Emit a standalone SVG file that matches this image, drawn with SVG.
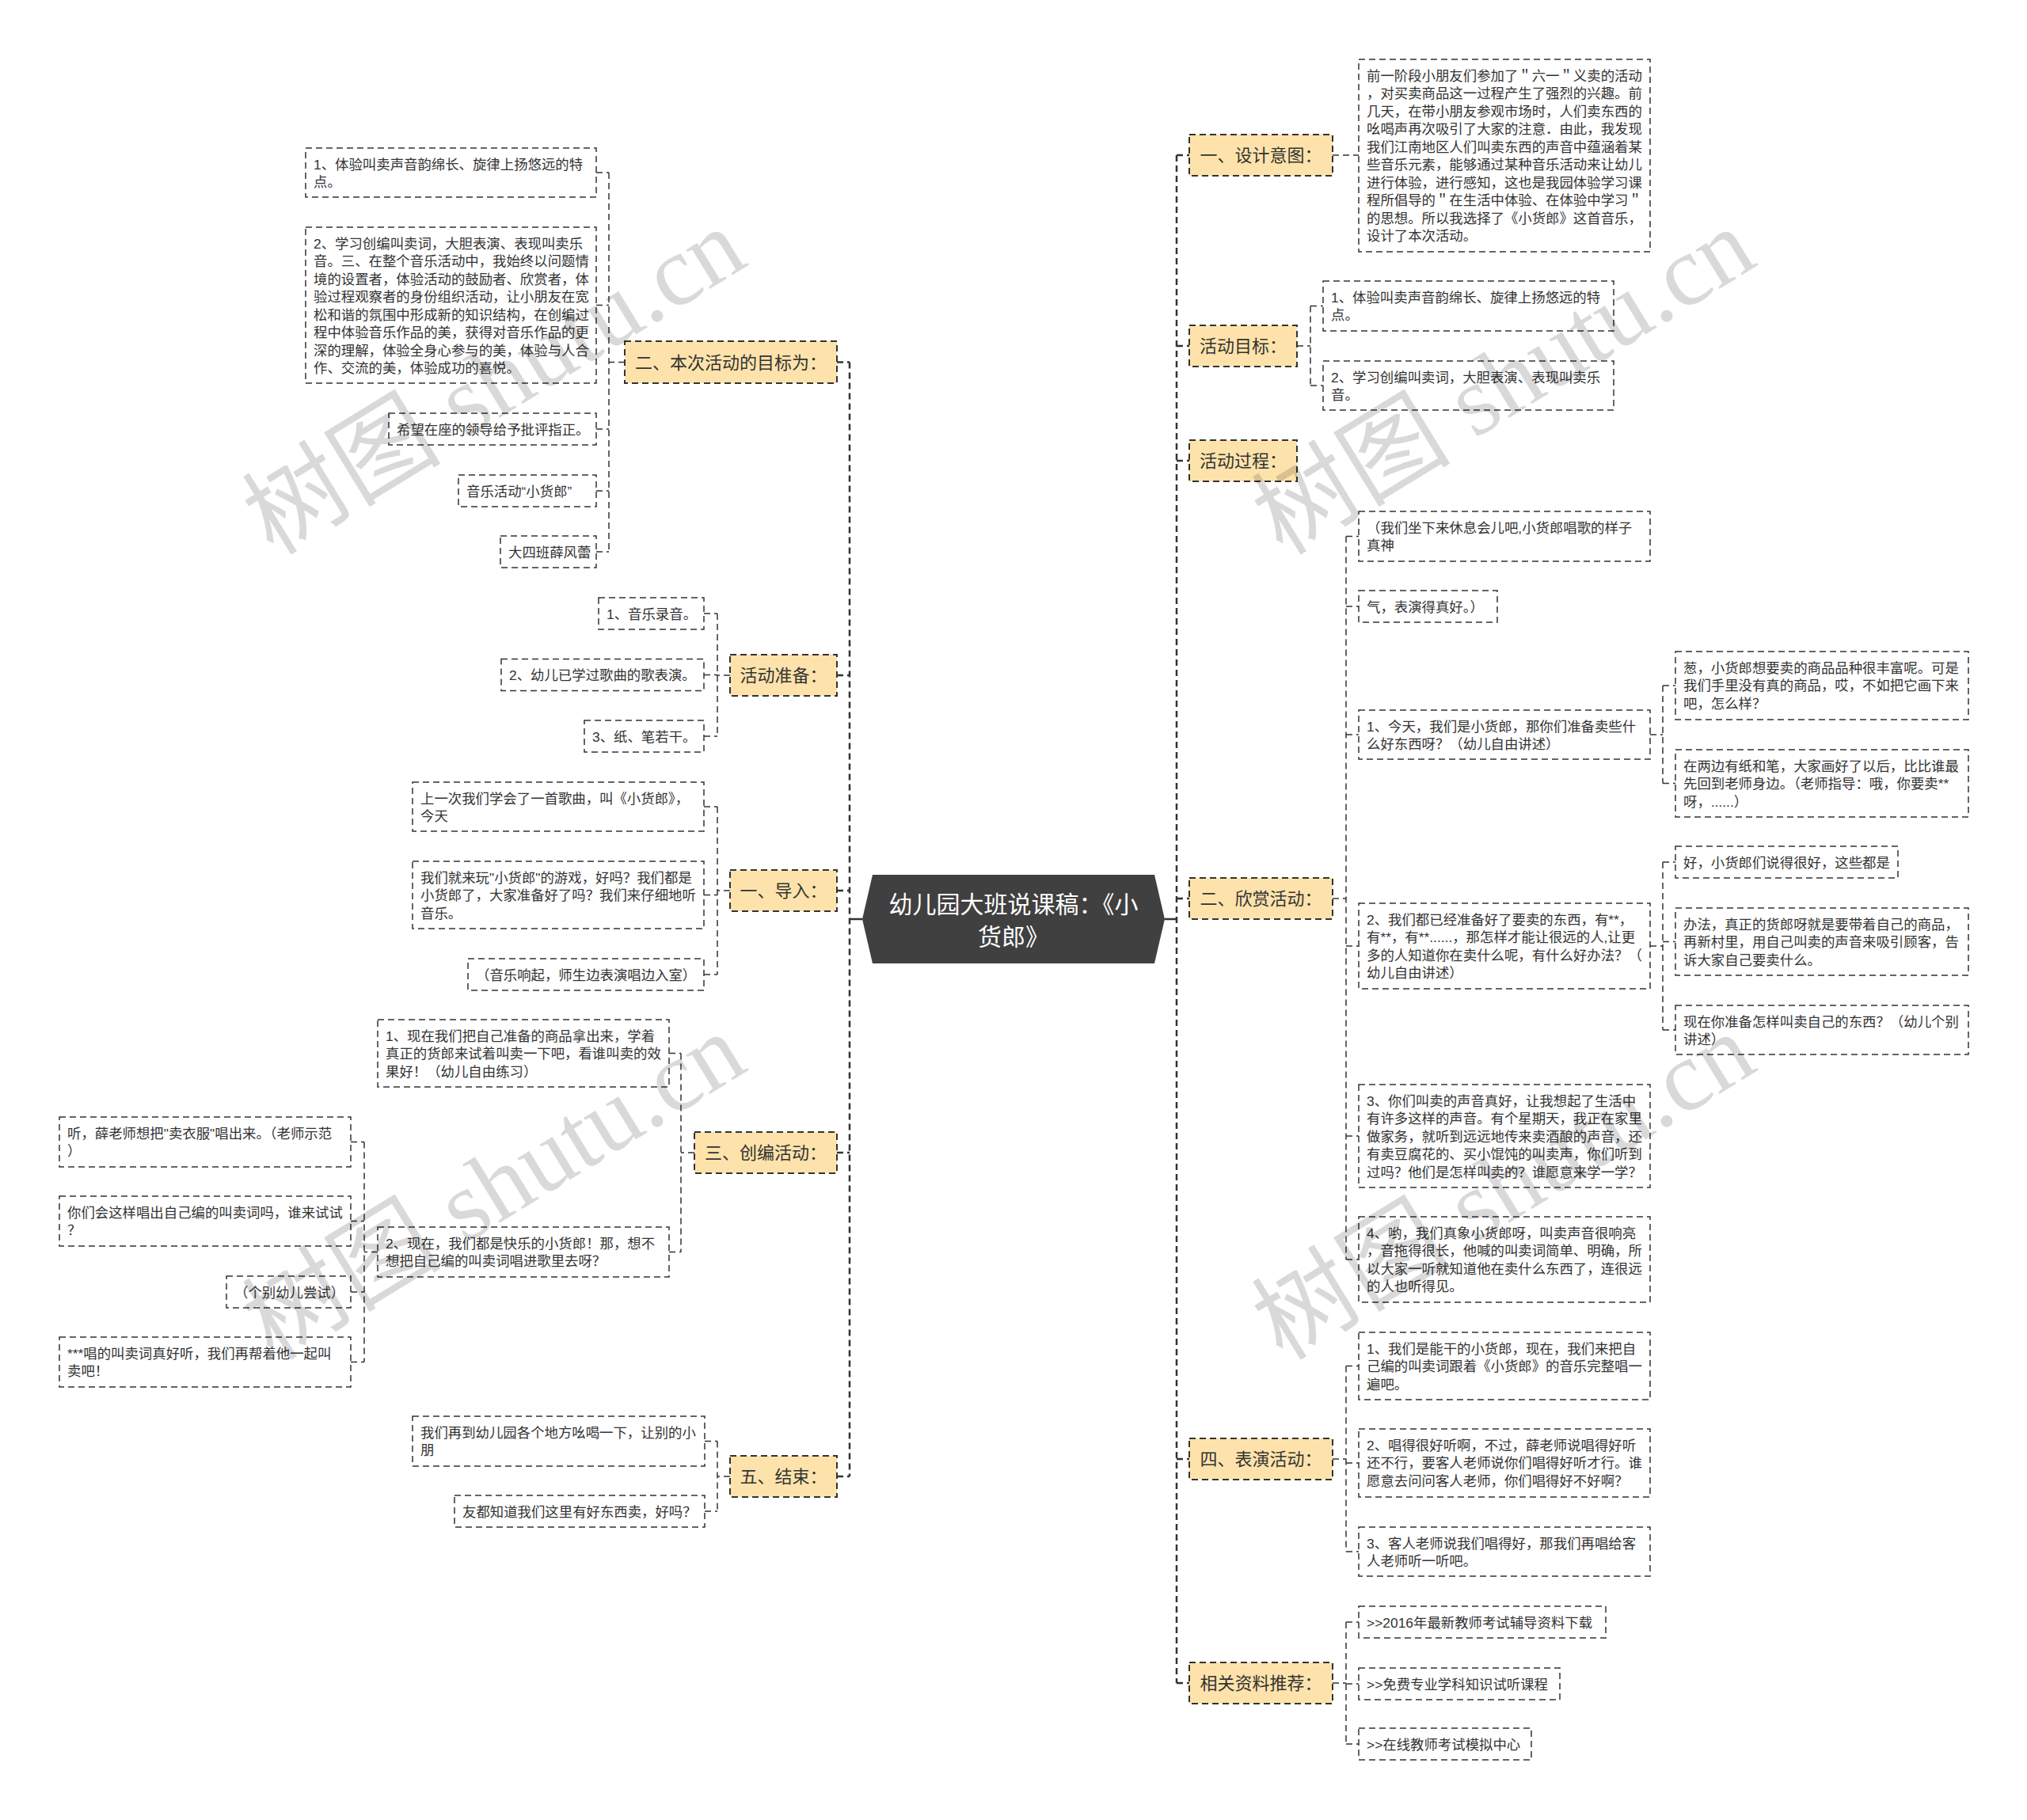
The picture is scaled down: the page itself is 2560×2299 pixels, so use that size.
<svg xmlns="http://www.w3.org/2000/svg" width="2560" height="2299" viewBox="0 0 2560 2299">
<style>
.lf{fill:#fff;stroke:#333;stroke-width:1.5;stroke-dasharray:8 5}
.l1{fill:#FDE3AB;stroke:#333;stroke-width:2;stroke-dasharray:8 5}
.t{font-family:'Liberation Sans','Noto Sans CJK SC',sans-serif;font-size:17.4px;fill:#333}
.t1{font-family:'Liberation Sans','Noto Sans CJK SC',sans-serif;font-size:22px;fill:#333;text-anchor:middle}
.tc{font-family:'Liberation Sans','Noto Sans CJK SC',sans-serif;font-size:30px;fill:#fff;text-anchor:middle}
.cn{fill:none;stroke:#333;stroke-width:1.5;stroke-dasharray:8 5}
.tr{fill:none;stroke:#333;stroke-width:2.5;stroke-dasharray:8 5}
.sl{fill:none;stroke:#333;stroke-width:2.5}
.wm{font-family:'Liberation Serif','Noto Sans CJK SC',serif;font-size:126px;fill:#000;fill-opacity:0.15}
</style>
<rect width="2560" height="2299" fill="#fff"/>
<g id="connectors">
<path class="sl" d="M1089 1161 H1073 M1471 1161 H1486"/>
<path class="tr" d="M1073 457.5 V1865 M1057 457.5 H1073 M1057 853 H1073 M1057 1125 H1073 M1057 1456 H1073 M1057 1865 H1073"/>
<path class="tr" d="M1486 196 V2126 M1486 196 H1502 M1486 437 H1502 M1486 582 H1502 M1486 1135 H1502 M1486 1843 H1502 M1486 2126 H1502"/>
<path class="cn" d="M789 457.5 H769 M769 218 V697 M753 218 H769 M753 385.5 H769 M753 542 H769 M753 620 H769 M753 697 H769"/>
<path class="cn" d="M922 853 H906 M906 775 V930 M889 775 H906 M889 852.5 H906 M889 930 H906"/>
<path class="cn" d="M922 1125 H906 M906 1019 V1231 M889 1019 H906 M889 1130.5 H906 M889 1231 H906"/>
<path class="cn" d="M877 1456 H860 M860 1330.5 V1581.5 M845 1330.5 H860 M845 1581.5 H860"/>
<path class="cn" d="M477 1581.5 H460 M460 1442.5 V1720.5 M443 1442.5 H460 M443 1542.5 H460 M443 1632 H460 M443 1720.5 H460"/>
<path class="cn" d="M922 1865 H906 M906 1820.5 V1909 M890 1820.5 H906 M890 1909 H906"/>
<path class="cn" d="M1683 196 H1716"/>
<path class="cn" d="M1638 437 H1655 M1655 386.5 V487 M1655 386.5 H1671 M1655 487 H1671"/>
<path class="cn" d="M1683 1135 H1700 M1700 677.5 V1591 M1700 677.5 H1716 M1700 766 H1716 M1700 928 H1716 M1700 1195 H1716 M1700 1435 H1716 M1700 1591 H1716"/>
<path class="cn" d="M2084 928 H2100 M2100 866 V989.5 M2100 866 H2116 M2100 989.5 H2116"/>
<path class="cn" d="M2084 1195 H2100 M2100 1089 V1301 M2100 1089 H2116 M2100 1189.5 H2116 M2100 1301 H2116"/>
<path class="cn" d="M1683 1843 H1700 M1700 1725.5 V1960 M1700 1725.5 H1716 M1700 1848 H1716 M1700 1960 H1716"/>
<path class="cn" d="M1683 2126 H1700 M1700 2049 V2203 M1700 2049 H1716 M1700 2127 H1716 M1700 2203 H1716"/>
</g>
<g id="root">
<polygon points="1089,1161 1102,1105 1458,1105 1471,1161 1458,1217 1102,1217" fill="#404040"/>
<text class="tc" x="1280" y="1153">幼儿园大班说课稿：《小</text>
<text class="tc" x="1280" y="1194">货郎》</text>
</g>
<g id="n-goal2">
<rect class="l1" x="789" y="431" width="268" height="53"/>
<text class="t1" x="923" y="465.5">二、本次活动的目标为：</text>
</g>
<g id="n-goal2-1">
<rect class="lf" x="386" y="187" width="367" height="62"/>
<text class="t" x="396" y="213.5">1、体验叫卖声音韵绵长、旋律上扬悠远的特</text>
<text class="t" x="396" y="236">点。</text>
</g>
<g id="n-goal2-2">
<rect class="lf" x="386" y="287" width="367" height="197"/>
<text class="t" x="396" y="313.5">2、学习创编叫卖词，大胆表演、表现叫卖乐</text>
<text class="t" x="396" y="336">音。三、在整个音乐活动中，我始终以问题情</text>
<text class="t" x="396" y="358.5">境的设置者，体验活动的鼓励者、欣赏者，体</text>
<text class="t" x="396" y="381">验过程观察者的身份组织活动，让小朋友在宽</text>
<text class="t" x="396" y="403.5">松和谐的氛围中形成新的知识结构，在创编过</text>
<text class="t" x="396" y="426">程中体验音乐作品的美，获得对音乐作品的更</text>
<text class="t" x="396" y="448.5">深的理解，体验全身心参与的美，体验与人合</text>
<text class="t" x="396" y="471">作、交流的美，体验成功的喜悦。</text>
</g>
<g id="n-goal2-3">
<rect class="lf" x="491" y="522" width="262" height="40"/>
<text class="t" x="501" y="548.5">希望在座的领导给予批评指正。</text>
</g>
<g id="n-goal2-4">
<rect class="lf" x="579" y="600" width="174" height="40"/>
<text class="t" x="589" y="626.5">音乐活动“小货郎”</text>
</g>
<g id="n-goal2-5">
<rect class="lf" x="632" y="677" width="121" height="40"/>
<text class="t" x="642" y="703.5">大四班薛风蕾</text>
</g>
<g id="n-prep">
<rect class="l1" x="922" y="827" width="135" height="52"/>
<text class="t1" x="989.5" y="861">活动准备：</text>
</g>
<g id="n-prep-1">
<rect class="lf" x="756" y="755" width="133" height="40"/>
<text class="t" x="766" y="781.5">1、音乐录音。</text>
</g>
<g id="n-prep-2">
<rect class="lf" x="633" y="832.5" width="256" height="40"/>
<text class="t" x="643" y="859">2、幼儿已学过歌曲的歌表演。</text>
</g>
<g id="n-prep-3">
<rect class="lf" x="738" y="910" width="151" height="40"/>
<text class="t" x="748" y="936.5">3、纸、笔若干。</text>
</g>
<g id="n-intro">
<rect class="l1" x="922" y="1099" width="135" height="52"/>
<text class="t1" x="989.5" y="1133">一、导入：</text>
</g>
<g id="n-intro-1">
<rect class="lf" x="521" y="988" width="368" height="62"/>
<text class="t" x="531" y="1014.5">上一次我们学会了一首歌曲，叫《小货郎》，</text>
<text class="t" x="531" y="1037">今天</text>
</g>
<g id="n-intro-2">
<rect class="lf" x="521" y="1088" width="368" height="85"/>
<text class="t" x="531" y="1114.5">我们就来玩"小货郎"的游戏，好吗？我们都是</text>
<text class="t" x="531" y="1137">小货郎了，大家准备好了吗？我们来仔细地听</text>
<text class="t" x="531" y="1159.5">音乐。</text>
</g>
<g id="n-intro-3">
<rect class="lf" x="591" y="1211" width="298" height="40"/>
<text class="t" x="601" y="1237.5">（音乐响起，师生边表演唱边入室）</text>
</g>
<g id="n-create">
<rect class="l1" x="877" y="1430" width="180" height="52"/>
<text class="t1" x="967" y="1464">三、创编活动：</text>
</g>
<g id="n-create-1">
<rect class="lf" x="477" y="1288" width="368" height="85"/>
<text class="t" x="487" y="1314.5">1、现在我们把自己准备的商品拿出来，学着</text>
<text class="t" x="487" y="1337">真正的货郎来试着叫卖一下吧，看谁叫卖的效</text>
<text class="t" x="487" y="1359.5">果好！（幼儿自由练习）</text>
</g>
<g id="n-create-2">
<rect class="lf" x="477" y="1550" width="368" height="63"/>
<text class="t" x="487" y="1576.5">2、现在，我们都是快乐的小货郎！那，想不</text>
<text class="t" x="487" y="1599">想把自己编的叫卖词唱进歌里去呀？</text>
</g>
<g id="n-create-2-1">
<rect class="lf" x="75" y="1411" width="368" height="63"/>
<text class="t" x="85" y="1437.5">听，薛老师想把"卖衣服"唱出来。（老师示范</text>
<text class="t" x="85" y="1460">）</text>
</g>
<g id="n-create-2-2">
<rect class="lf" x="75" y="1511" width="368" height="63"/>
<text class="t" x="85" y="1537.5">你们会这样唱出自己编的叫卖词吗，谁来试试</text>
<text class="t" x="85" y="1560">？</text>
</g>
<g id="n-create-2-3">
<rect class="lf" x="286" y="1612" width="157" height="40"/>
<text class="t" x="296" y="1638.5">（个别幼儿尝试）</text>
</g>
<g id="n-create-2-4">
<rect class="lf" x="75" y="1689" width="368" height="63"/>
<text class="t" x="85" y="1715.5">***唱的叫卖词真好听，我们再帮着他一起叫</text>
<text class="t" x="85" y="1738">卖吧！</text>
</g>
<g id="n-end">
<rect class="l1" x="922" y="1839" width="135" height="52"/>
<text class="t1" x="989.5" y="1873">五、结束：</text>
</g>
<g id="n-end-1">
<rect class="lf" x="521" y="1789" width="369" height="63"/>
<text class="t" x="531" y="1815.5">我们再到幼儿园各个地方吆喝一下，让别的小</text>
<text class="t" x="531" y="1838">朋</text>
</g>
<g id="n-end-2">
<rect class="lf" x="574" y="1889" width="316" height="40"/>
<text class="t" x="584" y="1915.5">友都知道我们这里有好东西卖，好吗？</text>
</g>
<g id="n-design">
<rect class="l1" x="1502" y="170" width="181" height="52"/>
<text class="t1" x="1592.5" y="204">一、设计意图：</text>
</g>
<g id="n-design-1">
<rect class="lf" x="1716" y="75" width="368" height="243"/>
<text class="t" x="1726" y="101.5">前一阶段小朋友们参加了＂六一＂义卖的活动</text>
<text class="t" x="1726" y="124">，对买卖商品这一过程产生了强烈的兴趣。前</text>
<text class="t" x="1726" y="146.5">几天，在带小朋友参观市场时，人们卖东西的</text>
<text class="t" x="1726" y="169">吆喝声再次吸引了大家的注意．由此，我发现</text>
<text class="t" x="1726" y="191.5">我们江南地区人们叫卖东西的声音中蕴涵着某</text>
<text class="t" x="1726" y="214">些音乐元素，能够通过某种音乐活动来让幼儿</text>
<text class="t" x="1726" y="236.5">进行体验，进行感知，这也是我园体验学习课</text>
<text class="t" x="1726" y="259">程所倡导的＂在生活中体验、在体验中学习＂</text>
<text class="t" x="1726" y="281.5">的思想。所以我选择了《小货郎》这首音乐，</text>
<text class="t" x="1726" y="304">设计了本次活动。</text>
</g>
<g id="n-goal">
<rect class="l1" x="1502" y="411" width="136" height="52"/>
<text class="t1" x="1570" y="445">活动目标：</text>
</g>
<g id="n-goal-1">
<rect class="lf" x="1671" y="355" width="367" height="63"/>
<text class="t" x="1681" y="381.5">1、体验叫卖声音韵绵长、旋律上扬悠远的特</text>
<text class="t" x="1681" y="404">点。</text>
</g>
<g id="n-goal-2">
<rect class="lf" x="1671" y="456" width="367" height="62"/>
<text class="t" x="1681" y="482.5">2、学习创编叫卖词，大胆表演、表现叫卖乐</text>
<text class="t" x="1681" y="505">音。</text>
</g>
<g id="n-process">
<rect class="l1" x="1502" y="556" width="136" height="52"/>
<text class="t1" x="1570" y="590">活动过程：</text>
</g>
<g id="n-enjoy">
<rect class="l1" x="1502" y="1109" width="181" height="52"/>
<text class="t1" x="1592.5" y="1143">二、欣赏活动：</text>
</g>
<g id="n-enjoy-a">
<rect class="lf" x="1716" y="646" width="368" height="63"/>
<text class="t" x="1726" y="672.5">（我们坐下来休息会儿吧,小货郎唱歌的样子</text>
<text class="t" x="1726" y="695">真神</text>
</g>
<g id="n-enjoy-b">
<rect class="lf" x="1716" y="746" width="175" height="40"/>
<text class="t" x="1726" y="772.5">气，表演得真好。）</text>
</g>
<g id="n-enjoy-1">
<rect class="lf" x="1716" y="897" width="368" height="62"/>
<text class="t" x="1726" y="923.5">1、今天，我们是小货郎，那你们准备卖些什</text>
<text class="t" x="1726" y="946">么好东西呀？（幼儿自由讲述）</text>
</g>
<g id="n-enjoy-1-1">
<rect class="lf" x="2116" y="823" width="370" height="86"/>
<text class="t" x="2126" y="849.5">葱，小货郎想要卖的商品品种很丰富呢。可是</text>
<text class="t" x="2126" y="872">我们手里没有真的商品，哎，不如把它画下来</text>
<text class="t" x="2126" y="894.5">吧，怎么样？</text>
</g>
<g id="n-enjoy-1-2">
<rect class="lf" x="2116" y="947" width="370" height="85"/>
<text class="t" x="2126" y="973.5">在两边有纸和笔，大家画好了以后，比比谁最</text>
<text class="t" x="2126" y="996">先回到老师身边。（老师指导：哦，你要卖**</text>
<text class="t" x="2126" y="1018.5">呀，......）</text>
</g>
<g id="n-enjoy-2">
<rect class="lf" x="1716" y="1141" width="368" height="108"/>
<text class="t" x="1726" y="1167.5">2、我们都已经准备好了要卖的东西，有**，</text>
<text class="t" x="1726" y="1190">有**，有**......，那怎样才能让很远的人,让更</text>
<text class="t" x="1726" y="1212.5">多的人知道你在卖什么呢，有什么好办法？（</text>
<text class="t" x="1726" y="1235">幼儿自由讲述）</text>
</g>
<g id="n-enjoy-2-1">
<rect class="lf" x="2116" y="1069" width="281" height="40"/>
<text class="t" x="2126" y="1095.5">好，小货郎们说得很好，这些都是</text>
</g>
<g id="n-enjoy-2-2">
<rect class="lf" x="2116" y="1147" width="370" height="85"/>
<text class="t" x="2126" y="1173.5">办法，真正的货郎呀就是要带着自己的商品，</text>
<text class="t" x="2126" y="1196">再新村里，用自己叫卖的声音来吸引顾客，告</text>
<text class="t" x="2126" y="1218.5">诉大家自己要卖什么。</text>
</g>
<g id="n-enjoy-2-3">
<rect class="lf" x="2116" y="1270" width="370" height="62"/>
<text class="t" x="2126" y="1296.5">现在你准备怎样叫卖自己的东西？（幼儿个别</text>
<text class="t" x="2126" y="1319">讲述）</text>
</g>
<g id="n-enjoy-3">
<rect class="lf" x="1716" y="1370" width="368" height="130"/>
<text class="t" x="1726" y="1396.5">3、你们叫卖的声音真好，让我想起了生活中</text>
<text class="t" x="1726" y="1419">有许多这样的声音。有个星期天，我正在家里</text>
<text class="t" x="1726" y="1441.5">做家务，就听到远远地传来卖酒酿的声音，还</text>
<text class="t" x="1726" y="1464">有卖豆腐花的、买小馄饨的叫卖声，你们听到</text>
<text class="t" x="1726" y="1486.5">过吗？他们是怎样叫卖的？谁愿意来学一学？</text>
</g>
<g id="n-enjoy-4">
<rect class="lf" x="1716" y="1537" width="368" height="108"/>
<text class="t" x="1726" y="1563.5">4、哟，我们真象小货郎呀，叫卖声音很响亮</text>
<text class="t" x="1726" y="1586">，音拖得很长，他喊的叫卖词简单、明确，所</text>
<text class="t" x="1726" y="1608.5">以大家一听就知道他在卖什么东西了，连很远</text>
<text class="t" x="1726" y="1631">的人也听得见。</text>
</g>
<g id="n-show">
<rect class="l1" x="1502" y="1817" width="181" height="52"/>
<text class="t1" x="1592.5" y="1851">四、表演活动：</text>
</g>
<g id="n-show-1">
<rect class="lf" x="1716" y="1683" width="368" height="85"/>
<text class="t" x="1726" y="1709.5">1、我们是能干的小货郎，现在，我们来把自</text>
<text class="t" x="1726" y="1732">己编的叫卖词跟着《小货郎》的音乐完整唱一</text>
<text class="t" x="1726" y="1754.5">遍吧。</text>
</g>
<g id="n-show-2">
<rect class="lf" x="1716" y="1805" width="368" height="86"/>
<text class="t" x="1726" y="1831.5">2、唱得很好听啊，不过，薛老师说唱得好听</text>
<text class="t" x="1726" y="1854">还不行，要客人老师说你们唱得好听才行。谁</text>
<text class="t" x="1726" y="1876.5">愿意去问问客人老师，你们唱得好不好啊？</text>
</g>
<g id="n-show-3">
<rect class="lf" x="1716" y="1929" width="368" height="62"/>
<text class="t" x="1726" y="1955.5">3、客人老师说我们唱得好，那我们再唱给客</text>
<text class="t" x="1726" y="1978">人老师听一听吧。</text>
</g>
<g id="n-ref">
<rect class="l1" x="1502" y="2100" width="181" height="52"/>
<text class="t1" x="1592.5" y="2134">相关资料推荐：</text>
</g>
<g id="n-ref-1">
<rect class="lf" x="1716" y="2029" width="312" height="40"/>
<text class="t" x="1726" y="2055.5">&gt;&gt;2016年最新教师考试辅导资料下载</text>
</g>
<g id="n-ref-2">
<rect class="lf" x="1716" y="2107" width="254" height="40"/>
<text class="t" x="1726" y="2133.5">&gt;&gt;免费专业学科知识试听课程</text>
</g>
<g id="n-ref-3">
<rect class="lf" x="1716" y="2183" width="218" height="40"/>
<text class="t" x="1726" y="2209.5">&gt;&gt;在线教师考试模拟中心</text>
</g>
<g id="watermark">
<text class="wm" x="345" y="703" transform="rotate(-31.5 345 703)">树图 shutu.cn</text>
<text class="wm" x="345" y="1720" transform="rotate(-31.5 345 1720)">树图 shutu.cn</text>
<text class="wm" x="1620" y="703" transform="rotate(-31.5 1620 703)">树图 shutu.cn</text>
<text class="wm" x="1620" y="1720" transform="rotate(-31.5 1620 1720)">树图 shutu.cn</text>
</g>
</svg>
